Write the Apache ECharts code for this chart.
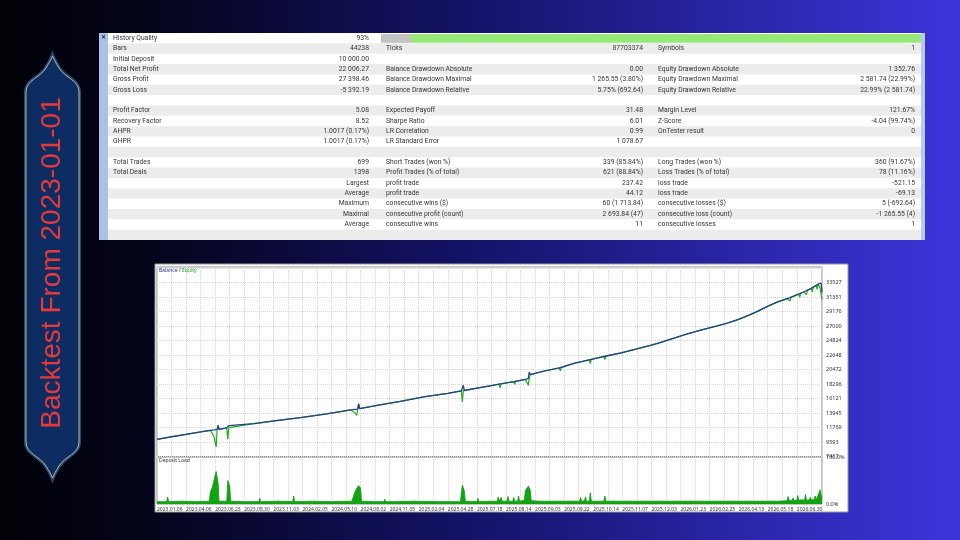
<!DOCTYPE html>
<html>
<head>
<meta charset="utf-8">
<script src="https://cdn.jsdelivr.net/npm/echarts@6/dist/echarts.min.js"></script>
<style>
  html, body { margin: 0; padding: 0; background: #000; }
  #main { width: 960px; height: 540px; }
</style>
</head>
<body>
<div id="main"></div>
<script>
// report table, one array per column
var col1Label = ['History Quality', 'Bars', 'Initial Deposit', 'Total Net Profit', 'Gross Profit', 'Gross Loss', '',
    'Profit Factor', 'Recovery Factor', 'AHPR', 'GHPR', '', 'Total Trades', 'Total Deals', '', '', '', '', '', ''];
var col1Value = ['93%', '44238', '10 000.00', '22 006.27', '27 398.46', '-5 392.19', '',
    '5.08', '8.52', '1.0017 (0.17%)', '1.0017 (0.17%)', '', '699', '1398', 'Largest', 'Average', 'Maximum', 'Maximal', 'Average', ''];
var col2Label = ['', 'Ticks', '', 'Balance Drawdown Absolute', 'Balance Drawdown Maximal', 'Balance Drawdown Relative', '',
    'Expected Payoff', 'Sharpe Ratio', 'LR Correlation', 'LR Standard Error', '', 'Short Trades (won %)', 'Profit Trades (% of total)',
    'profit trade', 'profit trade', 'consecutive wins ($)', 'consecutive profit (count)', 'consecutive wins', ''];
var col2Value = ['', '87703374', '', '0.00', '1 265.55 (3.80%)', '5.75% (692.64)', '',
    '31.48', '6.01', '0.99', '1 078.67', '', '339 (85.84%)', '621 (88.84%)', '237.42', '44.12', '60 (1 713.84)', '2 693.84 (47)', '11', ''];
var col3Label = ['', 'Symbols', '', 'Equity Drawdown Absolute', 'Equity Drawdown Maximal', 'Equity Drawdown Relative', '',
    'Margin Level', 'Z-Score', 'OnTester result', '', '', 'Long Trades (won %)', 'Loss Trades (% of total)',
    'loss trade', 'loss trade', 'consecutive losses ($)', 'consecutive loss (count)', 'consecutive losses', ''];
var col3Value = ['', '1', '', '1 352.76', '2 581.74 (22.99%)', '22.99% (2 581.74)', '',
    '121.67%', '-4.04 (99.74%)', '0', '', '', '360 (91.67%)', '78 (11.16%)', '-521.15', '-69.13', '5 (-692.64)', '-1 265.55 (4)', '1', ''];

// balance / equity curve, by trade number
var tradeNo = [0, 15, 30, 45, 55, 57, 59, 61, 62, 63,
    64, 72, 73, 74, 75, 100, 125, 148, 175, 200,
    202, 204, 206, 207, 208, 209, 230, 251, 275, 300,
    314, 315, 316, 317, 333, 345, 353, 354, 355, 368,
    369, 370, 375, 380, 381, 383, 384, 385, 400, 415,
    416, 417, 430, 446, 447, 448, 457, 461, 462, 463,
    480, 494, 495, 496, 509, 519, 520, 521, 535, 547,
    548, 549, 560, 575, 589, 590, 591, 600, 612, 621,
    622, 623, 632, 641, 642, 643, 650, 652, 653, 654,
    658, 662, 663, 664, 667, 669, 670, 671, 673, 675,
    676, 677, 679, 680, 681, 682, 683, 684, 685, 686];
var balance = [10000, 10380, 10750, 11100, 11350, 11400, 11420, 11450, 11480, 12100,
    11500, 11700, 11720, 12050, 11760, 12350, 12850, 13250, 13800, 14400,
    14440, 14480, 14520, 14540, 15300, 14600, 15150, 15700, 16350, 16900,
    17250, 17280, 18100, 17320, 17750, 18050, 18280, 18300, 18330, 18650,
    18680, 18700, 18850, 19000, 19050, 19100, 20100, 19700, 20250, 20700,
    20730, 20760, 21400, 21930, 21950, 21980, 22300, 22420, 22450, 22480,
    23000, 23520, 23550, 23580, 24100, 24500, 24550, 24600, 25250, 25800,
    25850, 25900, 26350, 26900, 27450, 27500, 27550, 28000, 28700, 29300,
    29400, 29450, 30100, 30650, 30700, 30750, 31100, 31200, 31250, 31300,
    31550, 31800, 31850, 31900, 32100, 32250, 32300, 32350, 32500, 32650,
    32750, 32800, 33000, 33100, 33200, 33300, 33400, 33527, 33450, 32006];
var equity = [10000, 10380, 10750, 11100, 11350, 10900, 10300, 8850, 11400, 12100,
    11500, 11700, 10000, 11750, 11760, 12350, 12850, 13250, 13800, 14400,
    14440, 14000, 13600, 14500, 15300, 14600, 15150, 15700, 16350, 16900,
    17250, 15600, 17300, 17320, 17750, 18050, 18280, 17700, 18330, 18650,
    18250, 18700, 18850, 19000, 18700, 18100, 19100, 19700, 20250, 20700,
    20250, 20760, 21400, 21930, 21350, 21980, 22300, 22420, 21950, 22480,
    23000, 23520, 23350, 23580, 24100, 24500, 24350, 24600, 25250, 25800,
    25650, 25900, 26350, 26900, 27450, 27300, 27550, 28000, 28700, 29300,
    29200, 29450, 30100, 30650, 30400, 30750, 31100, 31200, 30750, 31300,
    31550, 31800, 31300, 31900, 32100, 32250, 31700, 32350, 32500, 32650,
    32100, 32800, 33000, 33100, 32500, 33300, 33400, 32700, 31800, 31000];

// deposit load (%)
var loadTrade = [0, 10, 11, 12, 25, 40, 54, 55, 57, 59, 61, 63, 64, 72, 73, 75, 76, 90, 105, 106, 107, 125, 140, 141, 142,
    160, 180, 201, 202, 204, 206, 208, 210, 211, 225, 234, 235, 236, 245, 246, 247, 265, 289, 290, 291, 313, 314, 315, 317,
    318, 330, 331, 332, 345, 351, 352, 353, 355, 356, 361, 362, 363, 367, 368, 369, 372, 373, 374, 379, 380, 381, 383, 385,
    386, 395, 410, 436, 437, 438, 441, 442, 443, 446, 447, 448, 461, 462, 463, 475, 490, 491, 492, 510, 530, 555, 580, 598,
    599, 600, 620, 640, 650, 651, 652, 655, 656, 657, 660, 661, 662, 665, 668, 669, 670, 673, 674, 675, 678, 679, 680, 682,
    683, 684, 685, 686];
var loadPct = [5, 5, 15, 5, 6, 5, 6, 25, 35, 52, 69, 45, 6, 6, 50, 38, 6, 5, 5, 12, 5, 6, 5, 17, 5,
    6, 5, 6, 12, 25, 33, 39, 34, 6, 5, 5, 10, 5, 5, 9, 5, 6, 5, 9, 5, 5, 8, 40, 28,
    6, 5, 12, 5, 6, 6, 15, 6, 14, 6, 6, 16, 6, 6, 14, 6, 6, 17, 6, 8, 28, 32, 38, 30,
    7, 6, 6, 6, 14, 6, 7, 15, 6, 6, 24, 6, 6, 17, 6, 6, 6, 10, 6, 6, 6, 6, 6, 6,
    10, 6, 6, 6, 7, 16, 8, 7, 13, 7, 8, 18, 8, 9, 8, 20, 8, 9, 14, 9, 9, 17, 9, 10,
    24, 30, 20, 12];

var dateLabels = ['2023.01.06', '2023.04.06', '2023.06.23', '2023.08.30', '2023.11.03', '2024.02.05', '2024.05.10',
    '2024.08.02', '2024.11.05', '2025.02.04', '2025.04.28', '2025.07.18', '2025.08.14', '2025.09.03', '2025.09.22',
    '2025.10.14', '2025.11.07', '2025.12.03', '2026.01.23', '2026.02.25', '2026.04.13', '2026.05.18', '2026.06.30'];
var yLabels = ['7417', '9593', '11769', '13945', '16121', '18296', '20472', '22648', '24824', '27000', '29176', '31351', '33527'];

var yMin = 7417.2, yStep = 2175.8;
var font = '"Noto Sans", "Open Sans", sans-serif';
var tableFont = '6.8px Roboto, "Noto Sans", sans-serif';

// banner outline as a registered shape
echarts.graphic.registerShape('banner', echarts.graphic.extendPath(
    'M26,92 C26,80 40,78 46,68 C49,63 51,60 52.5,56 C54,60 56,63 59,68 C65,78 79,80 79,92 L79,442 ' +
    'C79,454 65,456 59,466 C56,471 54,474 52.5,478 C51,474 49,471 46,466 C40,456 26,454 26,442 Z'));

var myChart = echarts.init(document.getElementById('main'), null, { renderer: 'canvas' });

// page decoration + report table
var els = [];
els.push({
    type: 'rect', z: -20, shape: { x: 0, y: 0, width: 960, height: 540 },
    style: { fill: { type: 'linear', x: 0, y: 0, x2: 1, y2: 0, colorStops: [
        { offset: 0, color: '#010106' }, { offset: 0.15, color: '#04041a' },
        { offset: 0.5, color: '#15136a' }, { offset: 1, color: '#3d35dc' }] } }
});
els.push({ type: 'banner', z: -10, style: { fill: '#0c2c62', stroke: '#1d4a86', lineWidth: 4 } });
els.push({ type: 'banner', z: -9, style: { fill: '#0c2c62', stroke: '#c9b57a', lineWidth: 1 } });
els.push({
    type: 'text', z: -8, x: 52, y: 263, rotation: Math.PI / 2,
    style: { text: 'Backtest From 2023-01-01', font: '28px "Liberation Sans", Arial, sans-serif',
        fill: '#e8393a', align: 'center', verticalAlign: 'middle' }
});

// table
var tTop = 33, rowH = 10.35;
els.push({ type: 'rect', z: -10, shape: { x: 99, y: tTop, width: 826, height: rowH * 20 }, style: { fill: '#ffffff' } });
els.push({ type: 'rect', z: -9, shape: { x: 99, y: tTop, width: 9, height: rowH * 20 }, style: { fill: '#a9c2e6' } });
els.push({ type: 'rect', z: -9, shape: { x: 921, y: tTop, width: 4, height: rowH * 20 }, style: { fill: '#b7caec' } });
els.push({ type: 'text', z: -7, x: 103.5, y: tTop + 5, style: { text: '×', font: 'bold 8px ' + font, fill: '#1a2a50', align: 'center', verticalAlign: 'middle' } });
for (var i = 0; i < col1Label.length; i++) {
    var cy = tTop + rowH * i + rowH / 2;
    if (i % 2 === 1) {
        els.push({ type: 'rect', z: -9, shape: { x: 108, y: tTop + rowH * i, width: 813, height: rowH }, style: { fill: '#ececec' } });
    }
    var cells = [
        [col1Label[i], 113, 'left'], [col1Value[i], 369, 'right'],
        [col2Label[i], 386, 'left'], [col2Value[i], 643, 'right'],
        [col3Label[i], 658, 'left'], [col3Value[i], 915, 'right']
    ];
    cells.forEach(function (c) {
        if (!c[0]) return;
        els.push({ type: 'text', z: -7, x: c[1], y: cy,
            style: { text: c[0], font: tableFont, fill: '#363636', align: c[2], verticalAlign: 'middle' } });
    });
}
// history quality bar
els.push({ type: 'rect', z: -8, shape: { x: 381, y: tTop + 1, width: 30, height: rowH - 1.5 }, style: { fill: '#c4c4c4' } });
els.push({ type: 'rect', z: -8, shape: { x: 411, y: tTop + 1, width: 510, height: rowH - 1.5 }, style: { fill: '#98e878' } });

// chart panel
els.push({ type: 'rect', z: -10, shape: { x: 155, y: 264, width: 693, height: 248 }, style: { fill: '#ffffff', stroke: '#9a9a9a', lineWidth: 1 } });
els.push({ type: 'text', z: 5, x: 159, y: 271, style: {
    text: '{b|Balance} / {e|Equity}', font: '5px ' + font, fill: '#333', verticalAlign: 'middle',
    rich: { b: { fill: '#2d2da8', font: '5px ' + font }, e: { fill: '#1aa51a', font: '5px ' + font } } } });
els.push({ type: 'text', z: 5, x: 159, y: 461, style: { text: 'Deposit Load', font: '5px ' + font, fill: '#333', verticalAlign: 'middle' } });

var gridLine = { show: true, lineStyle: { color: '#d6d6d6', type: 'dotted', width: 1 } };

option = {
    animation: false,
    graphic: { elements: els },
    grid: [
        { left: 157, top: 267, width: 665, height: 189.5, show: true, borderColor: '#8c8c8c', borderWidth: 1, backgroundColor: 'transparent' },
        { left: 157, top: 457, width: 665, height: 47, show: true, borderColor: '#8c8c8c', borderWidth: 1, backgroundColor: 'transparent' }
    ],
    xAxis: [
        { gridIndex: 0, type: 'value', min: 0, max: 686, interval: 30,
          axisLine: { show: false }, axisTick: { show: false }, axisLabel: { show: false },
          splitLine: gridLine, minorTick: { show: false, splitNumber: 2 }, minorSplitLine: gridLine },
        { gridIndex: 1, type: 'value', min: 0, max: 686, interval: 30,
          axisLine: { show: false }, axisTick: { show: false },
          axisLabel: { show: true, fontSize: 5, fontFamily: font, color: '#333', align: 'left', margin: 3,
              showMaxLabel: false, formatter: function (v) { return dateLabels[Math.round(v / 30)] || ''; } },
          splitLine: gridLine, minorTick: { show: false, splitNumber: 2 }, minorSplitLine: gridLine }
    ],
    yAxis: [
        { gridIndex: 0, type: 'value', position: 'right', min: yMin, max: 35850, interval: yStep,
          axisLine: { show: false }, axisTick: { show: false },
          axisLabel: { fontSize: 5.5, fontFamily: font, color: '#333', margin: 4,
              formatter: function (v) { return yLabels[Math.round((v - yMin) / yStep)] || ''; } },
          splitLine: gridLine },
        { gridIndex: 1, type: 'value', position: 'right', min: 0, max: 100, interval: 100,
          axisLine: { show: false }, axisTick: { show: false },
          axisLabel: { fontSize: 5.5, fontFamily: font, color: '#333', margin: 4,
              formatter: function (v) { return v.toFixed(1) + '%'; } },
          splitLine: { show: false } }
    ],
    series: [
        { name: 'Equity', type: 'line', xAxisIndex: 0, yAxisIndex: 0, showSymbol: false, z: 2,
          data: tradeNo.map(function (t, i) { return [t, equity[i]]; }),
          lineStyle: { color: '#1fae1f', width: 1.2 } },
        { name: 'Balance', type: 'line', xAxisIndex: 0, yAxisIndex: 0, showSymbol: false, z: 3,
          data: tradeNo.map(function (t, i) { return [t, balance[i]]; }),
          lineStyle: { color: '#23408a', width: 1.3 } },
        { name: 'Deposit Load', type: 'line', xAxisIndex: 1, yAxisIndex: 1, showSymbol: false, z: 2,
          data: loadTrade.map(function (t, i) { return [t, loadPct[i]]; }),
          lineStyle: { color: '#0a9a0a', width: 0.8 }, areaStyle: { color: '#12a312', opacity: 1 } }
    ]
};
myChart.setOption(option);
</script>
</body>
</html>
